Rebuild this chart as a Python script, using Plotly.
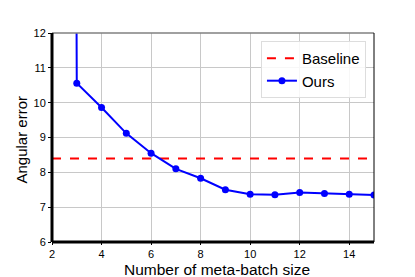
import plotly.graph_objects as go

batch_sizes = [2, 3, 4, 5, 6, 7, 8, 9, 10, 11, 12, 13, 14, 15]
ours_error = [200.0, 10.56, 9.86, 9.12, 8.55, 8.10, 7.83, 7.50, 7.37, 7.36, 7.42, 7.39, 7.37, 7.35]
baseline_error = 8.40
x_ticks = [2, 4, 6, 8, 10, 12, 14]
y_ticks = [6, 7, 8, 9, 10, 11, 12]
x_title = "Number of meta-batch size"
y_title = "Angular error"

fig = go.Figure()
fig.add_trace(go.Scatter(
    x=[2, 15], y=[baseline_error, baseline_error], mode="lines", name="Baseline",
    line=dict(color="red", width=2, dash="dash"),
))
fig.add_trace(go.Scatter(
    x=batch_sizes, y=ours_error, mode="lines+markers", name="Ours",
    line=dict(color="blue", width=2), marker=dict(color="blue", size=7),
))

font = "Liberation Sans, Arial, sans-serif"
# page body has an 8px margin, so the figure is sized 8px smaller
fig.update_layout(
    width=407, height=269,
    margin=dict(l=44, r=41, t=25, b=35, autoexpand=False),
    paper_bgcolor="white", plot_bgcolor="white",
    font=dict(family=font, color="black", size=11),
    showlegend=True,
    legend=dict(x=0.975, y=0.962, xanchor="right", yanchor="top",
                bgcolor="rgba(255,255,255,0.85)", bordercolor="#dddddd", borderwidth=1,
                font=dict(size=15, family=font), tracegroupgap=0, itemwidth=30),
    xaxis=dict(range=[2, 15], tickvals=x_ticks, showgrid=True, gridcolor="#c8c8c8", gridwidth=1,
               zeroline=False, showline=False, ticks="outside", ticklen=2, tickcolor="black",
               automargin=False),
    yaxis=dict(range=[6, 12], tickvals=y_ticks, showgrid=True, gridcolor="#c8c8c8", gridwidth=1,
               zeroline=False, showline=False, ticks="outside", ticklen=3, tickcolor="black",
               automargin=False),
)
fig.add_annotation(text=x_title, xref="paper", yref="paper", x=0.5, y=0,
                   xanchor="center", yanchor="middle", xshift=4, yshift=-27,
                   showarrow=False, font=dict(size=15.5, family=font, color="black"))
fig.add_annotation(text=y_title, xref="paper", yref="paper", x=0, y=0.5,
                   xanchor="center", yanchor="middle", xshift=-31, yshift=-2,
                   textangle=-90, showarrow=False, font=dict(size=15, family=font, color="black"))
# spines
fig.add_shape(type="line", xref="paper", yref="paper", x0=0, x1=1, y0=1, y1=1,
              line=dict(color="gray", width=1.5), layer="above")
fig.add_shape(type="line", xref="paper", yref="paper", x0=1, x1=1, y0=0, y1=1,
              line=dict(color="black", width=1), layer="above")
fig.add_shape(type="line", xref="paper", yref="paper", x0=0, x1=1, y0=0, y1=0,
              line=dict(color="black", width=3), layer="above")
fig.add_shape(type="line", xref="paper", yref="paper", x0=0, x1=0, y0=0, y1=1,
              line=dict(color="black", width=3), layer="above")

fig.write_html("out.html")
